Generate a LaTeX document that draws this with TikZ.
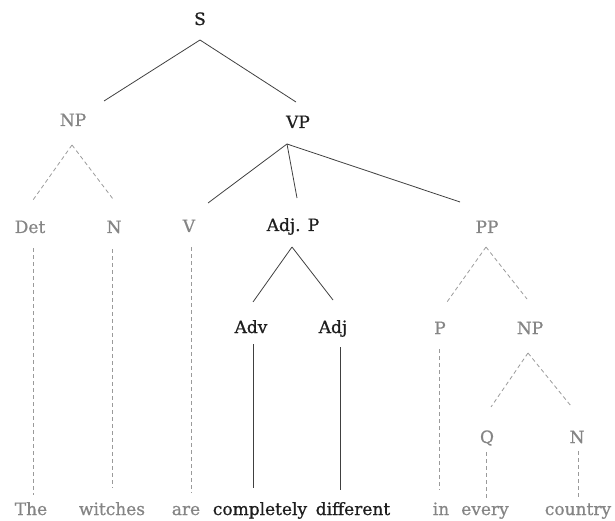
\documentclass[tikz,border=0pt]{standalone}
\usepackage{fontspec}
\setmainfont{DejaVu Serif}[FakeBold=0.8]
\usetikzlibrary{calc}
\definecolor{ink}{HTML}{1E1E1E}
\definecolor{faded}{HTML}{858585}
\definecolor{fadedline}{HTML}{9A9A9A}
\tikzset{
  cat/.style={inner sep=0pt, text height=12pt, text depth=0pt, font=\fontsize{17}{19}\selectfont},
  strong/.style={cat, text=ink},
  weak/.style={cat, text=faded},
  word/.style={inner sep=0pt, anchor=base, font=\fontsize{17}{19}\selectfont},
  strongword/.style={word, text=ink},
  weakword/.style={word, text=faded},
  solidedge/.style={draw=ink!85, line width=0.8pt},
  dashedge/.style={draw=fadedline, line width=0.8pt, dash pattern=on 4pt off 3pt},
}
\begin{document}
\begin{tikzpicture}[x=1pt, y=-1pt]
\useasboundingbox (0,0) rectangle (615,521);

% category labels
\node[strong] (S)    at (200,19)  {S};
\node[weak]   (NP)   at (73,120)  {NP};
\node[strong] (VP)   at (298,122) {VP};
\node[weak]   (Det)  at (30,227)  {Det};
\node[weak]   (N1)   at (114,227) {N};
\node[weak]   (V)    at (189,226) {V};
\node[strong] (AdjP) at (293,225) {Adj. P};
\node[weak]   (PP)   at (487,227) {PP};
\node[strong] (Adv)  at (251,327) {Adv};
\node[strong] (Adj)  at (333,327) {Adj};
\node[weak]   (P)    at (440,328) {P};
\node[weak]   (NP2)  at (530,328) {NP};
\node[weak]   (Q)    at (487,437) {Q};
\node[weak]   (N2)   at (577,437) {N};

% the sentence
\node[weakword]   (w1) at (31,515)  {The};
\node[weakword]   (w2) at (112,515) {witches};
\node[weakword]   (w3) at (186,515) {are};
\node[strongword] (w4) at (260,515) {completely};
\node[strongword] (w5) at (353,515) {different};
\node[weakword]   (w6) at (441,515) {in};
\node[weakword]   (w7) at (485,515) {every};
\node[weakword]   (w8) at (578,515) {country};

% branches
\draw[solidedge] ($(S)+(0,21)$) -- ($(NP)+(31,-19)$);
\draw[solidedge] ($(S)+(0,21)$) -- ($(VP)+(-2,-20)$);

\draw[dashedge] ($(NP)+(-1,25)$) -- ($(Det)+(3,-27)$);
\draw[dashedge] ($(NP)+(-1,25)$) -- ($(N1)+(-1,-28)$);

\draw[solidedge] ($(VP)+(-11,22)$) -- ($(V)+(19,-23)$);
\draw[solidedge] ($(VP)+(-11,22)$) -- ($(AdjP)+(4,-27)$);
\draw[solidedge] ($(VP)+(-11,22)$) -- ($(PP)+(-27,-25)$);

\draw[solidedge] ($(AdjP)+(-1,22)$) -- ($(Adv)+(2,-25)$);
\draw[solidedge] ($(AdjP)+(-1,22)$) -- ($(Adj)+(0,-27)$);

\draw[dashedge] ($(PP)+(-1,20)$) -- ($(P)+(7,-26)$);
\draw[dashedge] ($(PP)+(-1,20)$) -- ($(NP2)+(-3,-29)$);

\draw[dashedge] ($(NP2)+(-2,25)$) -- ($(Q)+(4,-30)$);
\draw[dashedge] ($(NP2)+(-2,25)$) -- ($(N2)+(-6,-31)$);

% lexical attachments
\draw[dashedge]  ($(Det)+(3,21)$)  -- ($(w1.base)+(2,-20)$);
\draw[dashedge]  ($(N1)+(-2,22)$)  -- ($(w2.base)+(0,-27)$);
\draw[dashedge]  ($(V)+(2,21)$)    -- ($(w3.base)+(5,-22)$);
\draw[solidedge] ($(Adv)+(2,17)$)  -- ($(w4.base)+(-7,-27)$);
\draw[solidedge] ($(Adj)+(7,20)$)  -- ($(w5.base)+(-13,-25)$);
\draw[dashedge]  ($(P)+(-1,21)$)   -- ($(w6.base)+(-2,-25)$);
\draw[dashedge]  ($(Q)+(-1,15)$)   -- ($(w7.base)+(1,-17)$);
\draw[dashedge]  ($(N2)+(1,14)$)   -- ($(w8.base)+(0,-17)$);
\end{tikzpicture}
\end{document}
